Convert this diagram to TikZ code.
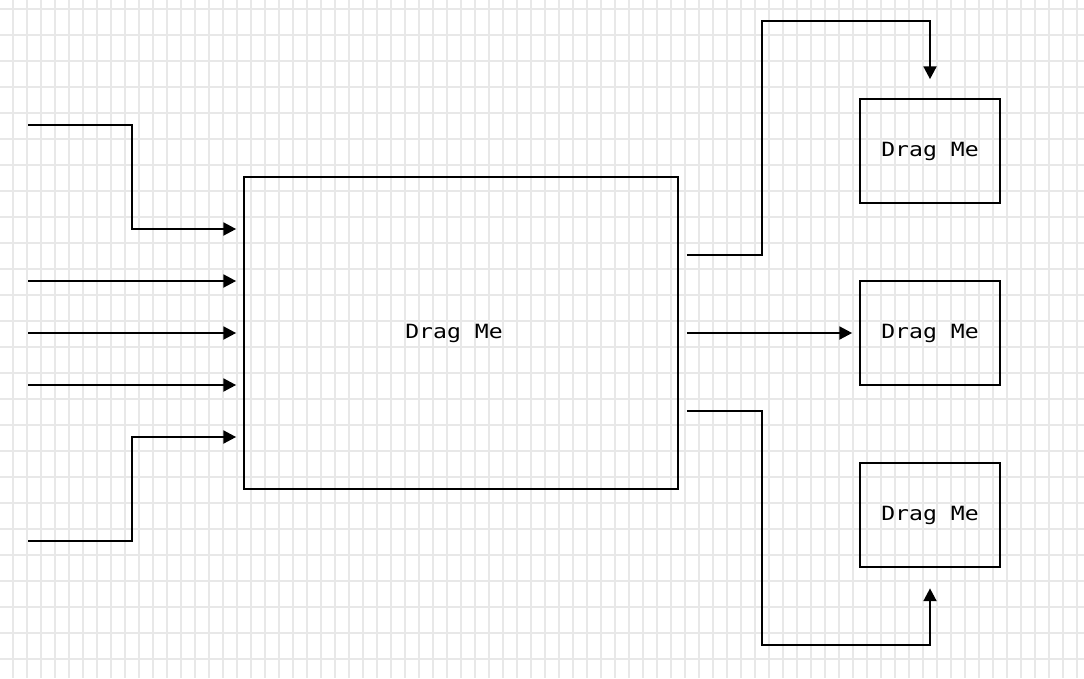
\documentclass[tikz,border=0pt]{standalone}
\usepackage{fontspec}
\newfontfamily\dragfont{DejaVu Sans Mono}[FakeStretch=1.18]
\usetikzlibrary{arrows.meta, calc}

\begin{document}
\begin{tikzpicture}[x=1pt, y=-1pt,
        gridline/.style={line width=2pt, draw=black!9},
        draglabel/.style={font=\dragfont\fontsize{19.6}{24}\selectfont, inner sep=0pt},
        dragbox/.style={rectangle, draw, line width=1.8pt, draglabel},
        flow/.style={-{Triangle[length=12.7pt, width=13pt]}, line width=1.8pt}
    ]
        \useasboundingbox (0,0) rectangle (1084,678);
        \fill[white] (0,0) rectangle (1084,678);
        % background grid
        \foreach \gx in {13,27,...,1077}
            \draw[gridline] (\gx,0) -- (\gx,678);
        \foreach \gy in {8.5,34.5,...,659}
            \draw[gridline] (0,\gy) -- (1084,\gy);

        \node[dragbox, minimum width=434pt, minimum height=312pt] (main) at (461,333) {};
        \node[draglabel] (mainlabel) at (454,333) {Drag Me};
        \node[dragbox, minimum width=140pt, minimum height=104pt] (top) at (930,151) {Drag Me};
        \node[dragbox, minimum width=140pt, minimum height=104pt] (mid) at (930,333) {Drag Me};
        \node[dragbox, minimum width=140pt, minimum height=104pt] (bot) at (930,515) {Drag Me};

        % free ends of the inputs
        \coordinate (in1) at (28,125);
        \coordinate (in2) at (28,281);
        \coordinate (in3) at (28,333);
        \coordinate (in4) at (28,385);
        \coordinate (in5) at (28,541);

        \draw[flow, shorten >=7pt] (in1) -| (132,229) -- ($(main.west)+(0,-104)$);
        \draw[flow, shorten >=7pt] (in2) -- ($(main.west)+(0,-52)$);
        \draw[flow, shorten >=7pt] (in3) -- (main.west);
        \draw[flow, shorten >=7pt] (in4) -- ($(main.west)+(0,52)$);
        \draw[flow, shorten >=7pt] (in5) -| (132,437) -- ($(main.west)+(0,104)$);

        \draw[flow, shorten >=19pt] ($(main.east)+(8,-78)$) -| (762,21) -| (top.north);
        \draw[flow, shorten >=7pt] ($(main.east)+(8,0)$) -- (mid.west);
        \draw[flow, shorten >=20.5pt] ($(main.east)+(8,78)$) -| (762,645) -| (bot.south);
    \end{tikzpicture}
\end{document}
